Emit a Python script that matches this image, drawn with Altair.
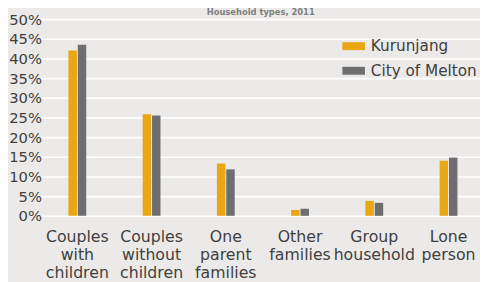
import altair as alt
import pandas as pd

categories = ["Couples with children", "Couples without children", "One parent families",
              "Other families", "Group household", "Lone person"]
series = ["Kurunjang", "City of Melton"]
kurunjang = [42.0, 25.8, 13.3, 1.5, 3.8, 14.0]
melton = [43.5, 25.5, 11.8, 1.8, 3.3, 14.8]
y_ticks = [0, 5, 10, 15, 20, 25, 30, 35, 40, 45, 50]

rows = []
for c, k, m in zip(categories, kurunjang, melton):
    rows.append({"category": c, "series": series[0], "value": k / 100})
    rows.append({"category": c, "series": series[1], "value": m / 100})
df = pd.DataFrame(rows)

FONT = "DejaVu Sans"
TEXT = "#404040"

chart = alt.Chart(df).mark_bar().encode(
    x=alt.X("category:N", sort=categories, title=None,
            scale=alt.Scale(range=[-5.25, 447.75], paddingInner=0.76, paddingOuter=0.38),
            axis=alt.Axis(labelAngle=0, domain=False, ticks=False, labelPadding=13.5,
                          labelFont=FONT, labelFontSize=16, labelColor=TEXT,
                          labelLineHeight=18, labelExpr="split(datum.label, ' ')",
                          labelOverlap=False, labelBound=False, labelFlush=False)),
    xOffset=alt.XOffset("series:N", sort=series, scale=alt.Scale(paddingInner=0.1)),
    y=alt.Y("value:Q", title=None,
            scale=alt.Scale(domain=[0, 0.5], nice=False),
            axis=alt.Axis(values=[v / 100 for v in y_ticks], format=".0%", domain=False,
                          ticks=False, labelPadding=4, labelFont=FONT, labelFontSize=15,
                          labelColor=TEXT, grid=True, gridColor="#FFFFFF", gridWidth=1.6)),
    color=alt.Color("series:N", sort=series, title=None,
                    scale=alt.Scale(domain=series, range=["#E9A713", "#6E6E70"]),
                    legend=alt.Legend(orient="none", legendX=302, legendY=16,
                                      symbolType="M-1,-0.35L1,-0.35L1,0.35L-1,0.35Z",
                                      symbolSize=529, symbolStrokeWidth=0,
                                      labelFont=FONT, labelFontSize=15.5, labelColor=TEXT,
                                      labelOffset=6, rowPadding=5, padding=0)),
).properties(
    width=438, height=200,
    title=alt.TitleParams("Household types, 2011", font=FONT, fontSize=8.5, fontWeight="bold",
                          color="#7F7F7F", anchor="middle", offset=-4.5),
    autosize=alt.AutoSizeParams(type="none"),
    padding={"left": 38, "top": 9, "right": 4, "bottom": 65},
).configure(background="#ECEAE8").configure_view(stroke=None)

chart.save("out.html", embed_options={"renderer": "svg", "actions": False})
